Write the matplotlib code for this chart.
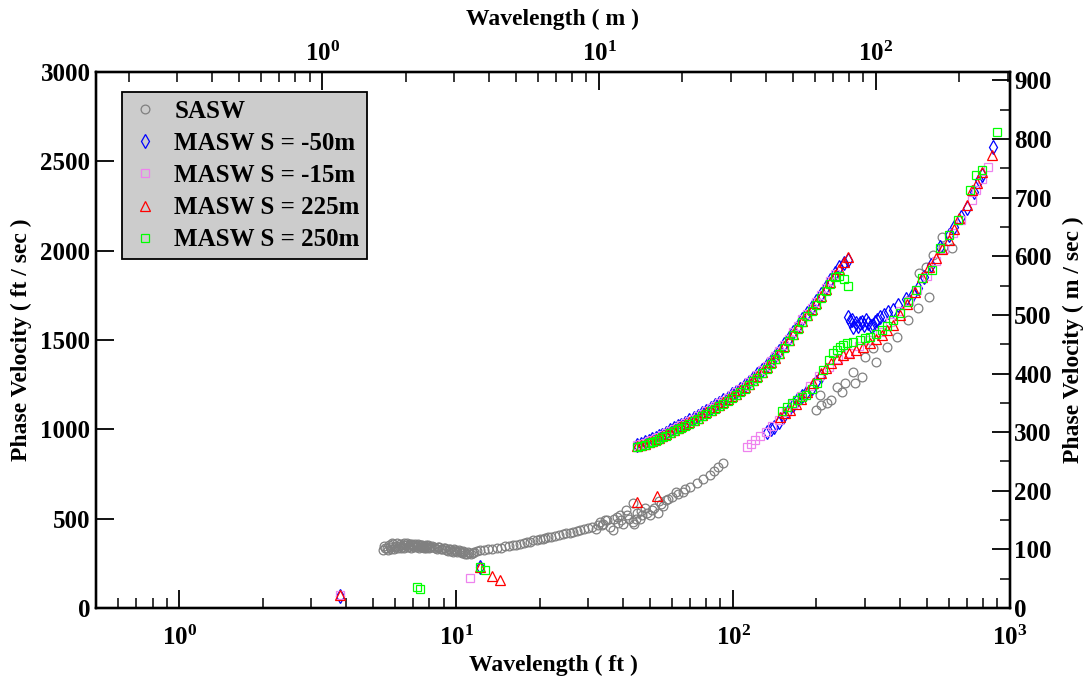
import numpy as np
import matplotlib
matplotlib.use("Agg")
import matplotlib.pyplot as plt
from matplotlib.ticker import MultipleLocator, FuncFormatter, LogLocator, NullFormatter

plt.rcParams['font.family'] = ['Liberation Serif', 'DejaVu Serif']
plt.rcParams['font.weight'] = 'bold'
plt.rcParams['mathtext.fontset'] = 'custom'
plt.rcParams['mathtext.rm'] = 'Liberation Serif:bold'
plt.rcParams['mathtext.bf'] = 'Liberation Serif:bold'
plt.rcParams['mathtext.it'] = 'Liberation Serif:bold:italic'

FT_TO_M = 0.3048

# ---------------- SASW dispersion data (wavelength ft, phase velocity ft/s)
sasw_wl = [5.45, 5.5, 5.6, 5.7, 5.8, 5.9, 6.0, 6.1, 6.2, 6.3, 6.4, 6.5, 6.6, 6.7,
           6.8, 6.9, 7.0, 7.1, 7.2, 7.3, 7.4, 7.5, 7.6, 7.7, 7.8, 7.9, 8.0, 8.2,
           8.4, 8.6, 8.8, 9.0, 9.2, 9.4, 9.6, 9.8, 10.0, 10.2, 10.4, 10.6, 10.8,
           11.0, 11.3, 11.6, 12.2, 13.0, 14.0, 15.0, 16.0, 17.0, 18.0, 19.0, 20.0,
           21.0, 22.0, 23.5, 25.0, 26.5, 28.0, 30.0, 32.0, 32.5, 33.0, 34.0, 35.0,
           36.0, 36.9, 38.0, 38.5, 39.0, 40.0, 41.0, 42.0, 43.6, 43.6, 44.0, 45.0,
           46.0, 47.0, 48.0, 50.0, 51.0, 52.0, 53.5, 55.0, 56.0, 57.3, 60.0, 62.0,
           65.7, 70.0, 74.0, 82.7, 88.5, 92.0,
           5.55, 5.65, 5.75, 5.85, 5.95, 6.05, 6.15, 6.25, 6.35, 6.45, 6.55, 6.65,
           6.75, 6.85, 6.95, 7.05, 7.15, 7.25, 7.35, 7.45, 7.55, 7.65, 7.75, 7.85,
           7.95, 8.1, 8.3, 8.5, 8.7, 8.9, 9.1, 9.3, 9.5, 9.7, 9.9, 10.1, 10.3, 10.5,
           10.7, 10.9, 11.1, 11.45,
           11.9, 12.6, 13.5, 14.5, 15.5, 16.5, 17.5, 18.5, 19.5, 20.5, 21.5, 22.7,
           24.2, 25.8, 27.2, 29.0, 31.0, 33.5, 34.5, 37.0, 39.5, 41.5, 44.5, 46.5,
           49.0, 54.0, 58.0, 63.0, 67.0, 78.0, 85.0,
           200, 206, 208, 218, 225, 237, 247, 254, 272, 276, 291, 299, 320, 329,
           361, 391, 427, 431, 465, 469, 497, 508, 527, 566, 573, 616]
sasw_vel = [325, 345, 335, 352, 330, 356, 340, 362, 345, 335, 355, 365, 350, 340,
            360, 350, 345, 356, 340, 350, 345, 355, 340, 348, 338, 350, 342, 348,
            335, 342, 330, 338, 325, 332, 320, 328, 318, 325, 312, 318, 305,
            312, 305, 315, 322, 328, 335, 345, 352, 360, 368, 378, 385,
            392, 400, 408, 418, 427, 436, 450, 440, 465, 480, 470, 490,
            455, 437, 510, 475, 521, 470, 549, 500, 483, 586, 470, 530,
            500, 521, 560, 520, 549, 560, 530, 580, 570, 604, 620, 651,
            651, 680, 698, 744, 791, 810,
            338, 322, 342, 362, 332, 348, 338, 358, 344, 338, 352, 362,
            345, 338, 358, 340, 348, 356, 338, 352, 344, 336, 352, 344,
            336, 340, 344, 332, 340, 328, 334, 320, 328, 316, 322, 312, 320, 308,
            312, 300, 306, 310,
            318, 322, 332, 338, 348, 355, 365, 372, 380, 388, 396, 404,
            412, 422, 430, 442, 455, 462, 495, 500, 490, 520, 500, 545,
            530, 600, 610, 640, 665, 720, 765,
            1110, 1192, 1136, 1146, 1164, 1239, 1211, 1258, 1323, 1258, 1295, 1407, 1453, 1379,
            1462, 1518, 1612, 1724, 1677, 1873, 1910, 1742, 1976, 2078, 2022, 2013]

# ---------------- MASW upper mode (shared wavelength grid, ft)
upper_wl = [45, 46.5, 48, 49.5, 51, 52.5, 54, 55.5, 57, 59, 61, 63, 65, 67, 69.5,
            72, 74.5, 77, 80, 83, 86, 89, 92, 95.5, 99, 102.5, 106, 110, 114, 118,
            122, 127, 132, 137, 142, 147, 153, 159, 165, 171, 178, 185, 192, 200,
            208, 216, 224, 233, 242, 251, 260]

blue_upper = [912, 920, 928, 936, 944, 952, 960, 970, 980, 994, 1005, 1017, 1027, 1038, 1050,
              1062, 1076, 1090, 1105, 1120, 1134, 1148, 1162, 1178, 1195, 1210, 1228, 1246, 1265, 1286,
              1308, 1332, 1358, 1385, 1412, 1440, 1475, 1510, 1545, 1580, 1618, 1650, 1682, 1716,
              1756, 1796, 1836, 1876, 1910, 1930, 1948]
pink_upper = [910, 918, 926, 934, 942, 950, 958, 968, 978, 992, 1003, 1015, 1025, 1036, 1048,
              1060, 1074, 1088, 1103, 1118, 1132, 1146, 1160, 1176, 1193, 1208, 1226, 1244, 1263, 1284,
              1306, 1330, 1356, 1383, 1410, 1438, 1473, 1508, 1543, 1578, 1616, 1648, 1680, 1713,
              1752, 1790, 1830, 1868, np.nan, np.nan, np.nan]
red_upper = [905, 912, 920, 928, 936, 944, 952, 962, 972, 985, 996, 1008, 1018, 1028, 1040,
             1052, 1066, 1080, 1095, 1110, 1124, 1138, 1152, 1168, 1185, 1200, 1218, 1236, 1255, 1276,
             1298, 1322, 1348, 1375, 1402, 1430, 1465, 1500, 1535, 1570, 1608, 1640, 1672, 1705,
             1745, 1785, 1825, 1865, 1900, 1935, 1962]
green_upper = [900, 906, 913, 921, 929, 937, 945, 955, 965, 978, 989, 1000, 1010, 1020, 1032,
               1044, 1058, 1072, 1087, 1102, 1116, 1130, 1144, 1160, 1177, 1192, 1210, 1228, 1247, 1268,
               1290, 1314, 1340, 1367, 1394, 1422, 1457, 1492, 1527, 1562, 1600, 1632, 1664, 1697,
               1737, 1777, 1815, 1850, 1858, 1840, 1800]

# ---------------- MASW remaining points (ft, ft/s)
blue_wl = [3.8, 12.2, 132, 137, 141, 146, 152, 158, 164, 170, 177, 184, 192, 200, 208,
           261, 265, 268, 272, 277, 282, 287, 292, 297, 302, 308, 314, 320, 326, 332,
           340, 350, 362, 377, 395, 420, 445, 465, 490, 520, 558, 600, 630, 668, 700,
           740, 775, 789, 868]
blue_vel = [66, 230, 987, 1000, 1015, 1040, 1070, 1100, 1136, 1164, 1185, 1202, 1230, 1265, 1300,
            1630, 1605, 1612, 1575, 1595, 1580, 1593, 1600, 1585, 1612, 1595, 1580, 1584, 1600, 1612,
            1630, 1640, 1655, 1668, 1696, 1730, 1760, 1790, 1850, 1920, 2022, 2090, 2130, 2190, 2240,
            2330, 2395, 2423, 2582]

pink_wl = [3.8, 11.2, 112, 116, 120, 125, 131, 138, 146, 155, 165, 176, 190, 205, 222,
           240, 262, 285, 310, 340, 370, 400, 430, 460, 500, 540, 580, 623, 668, 727,
           753, 790, 830]
pink_vel = [72, 166, 903, 920, 940, 965, 985, 1020, 1055, 1095, 1140, 1185, 1240, 1300, 1350,
            1395, 1430, 1465, 1500, 1545, 1600, 1660, 1720, 1780, 1860, 1940, 2010, 2100, 2172, 2284,
            2340, 2400, 2470]

red_wl = [3.8, 12.2, 13.5, 14.4, 44.9, 53,
          148, 154, 160, 168, 176, 185, 195, 207, 216, 225, 237, 250, 263, 278,
          295, 312, 328, 345, 360, 377, 400, 425, 452, 482, 510, 540, 570, 601,
          630, 655, 697, 727, 760, 793, 862]
red_vel = [73, 232, 179, 157, 595, 629,
           1071, 1090, 1110, 1140, 1170, 1210, 1260, 1314, 1345, 1370, 1395, 1416, 1430, 1444,
           1462, 1481, 1505, 1528, 1555, 1584, 1640, 1700, 1770, 1855, 1910, 1960, 2010, 2060,
           2120, 2181, 2256, 2340, 2380, 2442, 2535]

green_wl = [7.2, 7.4, 12.2, 12.7,
            150, 156, 163, 170, 177, 184, 192, 201, 212, 222, 230, 237, 244, 250, 257,
            270, 287, 300, 312, 328, 345, 360, 377, 400, 427, 458, 482, 521, 558, 601,
            650, 715, 753, 789, 898]
green_vel = [116, 104, 228, 211,
             1100, 1125, 1150, 1165, 1180, 1192, 1225, 1262, 1332, 1390, 1427, 1444, 1462, 1472, 1481,
             1490, 1500, 1510, 1518, 1535, 1556, 1580, 1612, 1650, 1714, 1780, 1847, 1892, 2015, 2088,
             2172, 2340, 2423, 2451, 2666]

series_labels = ['SASW', 'MASW S = -50m', 'MASW S = -15m', 'MASW S = 225m', 'MASW S = 250m']

W, H = 1084, 679
fig = plt.figure(figsize=(W / 100, H / 100), dpi=100)
ax = fig.add_axes([96 / W, (H - 608) / H, 914 / W, 536 / H])

mw = 0.9
ax.plot(sasw_wl, sasw_vel, 'o', ms=6.3, mfc='none', mec='#808080', mew=mw, ls='none',
        label=series_labels[0])
ax.plot(upper_wl + blue_wl, blue_upper + blue_vel, 'd', ms=6.8, mfc='none', mec='#0000ff',
        mew=mw, ls='none', label=series_labels[1])
ax.plot(upper_wl + pink_wl, pink_upper + pink_vel, 's', ms=6.0, mfc='none', mec='#ee82ee',
        mew=mw, ls='none', label=series_labels[2])
ax.plot(upper_wl + red_wl, red_upper + red_vel, '^', ms=7.0, mfc='none', mec='#ff0000',
        mew=mw, ls='none', label=series_labels[3])
ax.plot(upper_wl + green_wl, green_upper + green_vel, 's', ms=6.0, mfc='none', mec='#00ff00',
        mew=mw, ls='none', label=series_labels[4])

ax.set_xscale('log')
ax.set_xlim(0.5, 1000)
ax.set_ylim(0, 3000)

dec_fmt = FuncFormatter(lambda v, p: r'$\mathbf{10^{%d}}$' % int(round(np.log10(v))))

ax.xaxis.set_major_locator(LogLocator(base=10, numticks=10))
ax.xaxis.set_minor_locator(LogLocator(base=10, subs=np.arange(2, 10), numticks=20))
ax.xaxis.set_major_formatter(dec_fmt)
ax.xaxis.set_minor_formatter(NullFormatter())
ax.yaxis.set_major_locator(MultipleLocator(500))

ax.tick_params(axis='both', which='major', length=13, width=1.3, direction='in', labelsize=18)
ax.tick_params(axis='both', which='minor', length=7, width=1.1, direction='in')
ax.tick_params(axis='x', which='major', pad=13)
ax.tick_params(axis='y', which='major', pad=4)
ax.tick_params(top=False, right=False, which='both')

for s in ax.spines.values():
    s.set_linewidth(1.6)

ax.set_xlabel('Wavelength ( ft )', fontsize=17, fontweight='bold', labelpad=3)
ax.set_ylabel('Phase Velocity ( ft / sec )', fontsize=17, fontweight='bold', labelpad=6)

# Right axis in m/s
axr = ax.twinx()
axr.set_ylim(0, 3000 * FT_TO_M)
axr.yaxis.set_major_locator(MultipleLocator(100))
axr.yaxis.set_minor_locator(MultipleLocator(50))
axr.tick_params(axis='y', which='major', length=13, width=1.3, direction='in', labelsize=18, pad=3)
axr.tick_params(axis='y', which='minor', length=7, width=1.1, direction='in')
axr.set_ylabel('Phase Velocity ( m / sec )', fontsize=17, fontweight='bold', labelpad=8)

# Top axis in m
axt = ax.twiny()
axt.set_xscale('log')
axt.set_xlim(0.5 * FT_TO_M, 1000 * FT_TO_M)
axt.xaxis.set_major_locator(LogLocator(base=10, numticks=10))
axt.xaxis.set_minor_locator(LogLocator(base=10, subs=np.arange(2, 10), numticks=20))
axt.xaxis.set_major_formatter(dec_fmt)
axt.xaxis.set_minor_formatter(NullFormatter())
axt.tick_params(axis='x', which='major', length=13, width=1.3, direction='in', labelsize=18, pad=4)
axt.tick_params(axis='x', which='minor', length=7, width=1.1, direction='in')
axt.set_xlabel('Wavelength ( m )', fontsize=17, fontweight='bold', labelpad=12)

for a in (axr, axt):
    for s in a.spines.values():
        s.set_linewidth(1.6)

leg = axt.legend(*ax.get_legend_handles_labels(), loc='upper left',
                 bbox_to_anchor=((122 - 96) / 914, (608 - 92) / 536),
                 borderaxespad=0, fancybox=False, framealpha=1, facecolor='#cccccc',
                 edgecolor='black', prop={'family': 'Liberation Serif', 'weight': 'bold', 'size': 18},
                 handlelength=1.2, handletextpad=0.6, labelspacing=0.37, borderpad=0.3,
                 bbox_transform=ax.transAxes)
leg.get_frame().set_linewidth(1.3)

fig.savefig('out.png', dpi=100)
